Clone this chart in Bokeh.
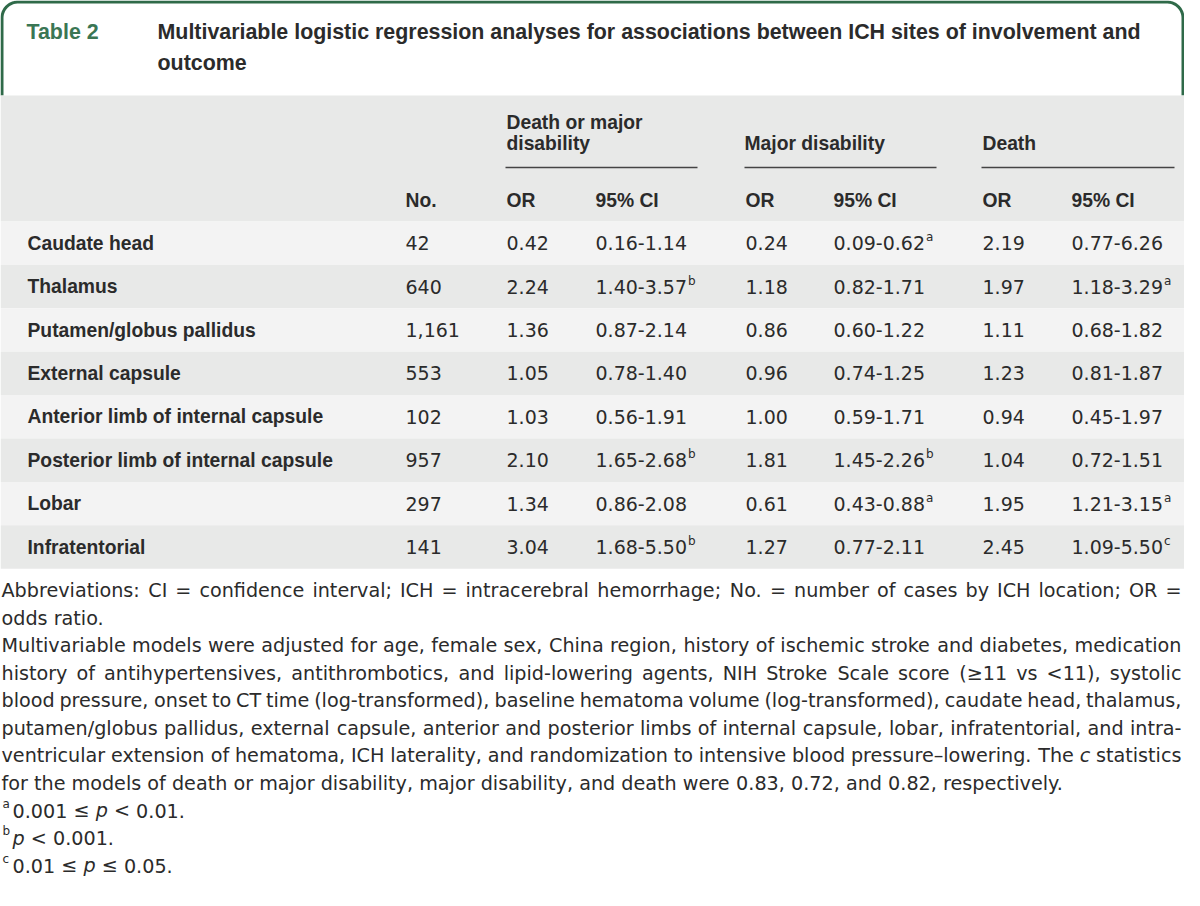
import numpy as np
from bokeh.plotting import figure
from bokeh.models import Range1d
from bokeh.core.properties import value
from bokeh.embed import file_html
from bokeh.resources import INLINE

# ---------------- data ----------------
table_label = "Table 2"
title_lines = ["Multivariable logistic regression analyses for associations between ICH sites of involvement and",
               "outcome"]
group_titles = [["Death or major", "disability"], ["Major disability"], ["Death"]]
sub_headers = ["No.", "OR", "95% CI", "OR", "95% CI", "OR", "95% CI"]

sites = ["Caudate head", "Thalamus", "Putamen/globus pallidus", "External capsule",
         "Anterior limb of internal capsule", "Posterior limb of internal capsule",
         "Lobar", "Infratentorial"]
n_cases = ["42", "640", "1,161", "553", "102", "957", "297", "141"]

or_dmd = ["0.42", "2.24", "1.36", "1.05", "1.03", "2.10", "1.34", "3.04"]
ci_dmd = ["0.16-1.14", "1.40-3.57", "0.87-2.14", "0.78-1.40", "0.56-1.91", "1.65-2.68", "0.86-2.08", "1.68-5.50"]
sup_dmd = ["", "b", "", "", "", "b", "", "b"]

or_md = ["0.24", "1.18", "0.86", "0.96", "1.00", "1.81", "0.61", "1.27"]
ci_md = ["0.09-0.62", "0.82-1.71", "0.60-1.22", "0.74-1.25", "0.59-1.71", "1.45-2.26", "0.43-0.88", "0.77-2.11"]
sup_md = ["a", "", "", "", "", "b", "a", ""]

or_d = ["2.19", "1.97", "1.11", "1.23", "0.94", "1.04", "1.95", "2.45"]
ci_d = ["0.77-6.26", "1.18-3.29", "0.68-1.82", "0.81-1.87", "0.45-1.97", "0.72-1.51", "1.21-3.15", "1.09-5.50"]
sup_d = ["", "a", "", "", "", "", "a", "c"]

notes = [
    ("Abbreviations: CI = confidence interval; ICH = intracerebral hemorrhage; No. = number of cases by ICH location; OR =", True),
    ("odds ratio.", False),
    ("Multivariable models were adjusted for age, female sex, China region, history of ischemic stroke and diabetes, medication", True),
    ("history of antihypertensives, antithrombotics, and lipid-lowering agents, NIH Stroke Scale score (≥11 vs <11), systolic", True),
    ("blood pressure, onset to CT time (log-transformed), baseline hematoma volume (log-transformed), caudate head, thalamus,", True),
    ("putamen/globus pallidus, external capsule, anterior and posterior limbs of internal capsule, lobar, infratentorial, and intra-", True),
    ("ventricular extension of hematoma, ICH laterality, and randomization to intensive blood pressure–lowering. The *c* statistics", True),
    ("for the models of death or major disability, major disability, and death were 0.83, 0.72, and 0.82, respectively.", False),
]
sig_marks = ["a", "b", "c"]
sig_texts = ["0.001 ≤ *p* < 0.01.", "*p* < 0.001.", "0.01 ≤ *p* ≤ 0.05."]

# ---------------- layout / style ----------------
W, H = 1184, 890
GREEN = "#2f6a49"
GREEN_TXT = "#3a7654"
DARK = "#2b2b2b"
HDR_BG = "#e8e9e8"
ROW_BG = ["#f3f3f3", "#e8e9e8"]
BOLD = "Liberation Sans"
REG = "DejaVu Sans"

# DejaVu Sans advance widths (units per 2048 em) for text measurement
DV = {' ': 651, '!': 821, '(': 799, ')': 799, ',': 651, '-': 739, '.': 651, '/': 690, ':': 690, ';': 690,
      '<': 1716, '=': 1716, '>': 1716, '≤': 1716, '≥': 1716, '–': 1024, '%': 1946,
      'A': 1401, 'B': 1405, 'C': 1430, 'D': 1577, 'E': 1294, 'F': 1178, 'G': 1589, 'H': 1540, 'I': 604,
      'J': 604, 'K': 1343, 'L': 1141, 'M': 1767, 'N': 1532, 'O': 1612, 'P': 1235, 'R': 1423, 'S': 1300,
      'T': 1251, 'U': 1499, 'V': 1401, 'W': 2025, 'Y': 1251,
      'a': 1255, 'b': 1300, 'c': 1126, 'd': 1300, 'e': 1260, 'f': 721, 'g': 1300, 'h': 1298, 'i': 569,
      'j': 569, 'k': 1186, 'l': 569, 'm': 1995, 'n': 1298, 'o': 1253, 'p': 1300, 'q': 1300, 'r': 842,
      's': 1067, 't': 803, 'u': 1298, 'v': 1212, 'w': 1675, 'x': 1212, 'y': 1212, 'z': 1075}
for d in "0123456789":
    DV[d] = 1303


def tw(s, size):
    return sum(DV.get(ch, 1250) for ch in s) / 2048.0 * size


p = figure(width=W, height=H, x_range=Range1d(0, W), y_range=Range1d(H, 0),
           output_backend="svg", toolbar_location=None, min_border=0,
           x_axis_type=None, y_axis_type=None)
p.xgrid.visible = False
p.ygrid.visible = False
p.outline_line_color = None
p.background_fill_color = "white"
p.border_fill_color = "white"

# ---- title box border (rounded top) ----
r = 16
bl, br, bt, bb = 1.5, W - 1.5, 1.5, 95
a1 = np.linspace(np.pi, 1.5 * np.pi, 24)
a2 = np.linspace(1.5 * np.pi, 2 * np.pi, 24)
bx = [bl] + list(bl + r + r * np.cos(a1)) + list(br - r + r * np.cos(a2)) + [br]
by = [bb] + list(bt + r + r * np.sin(a1)) + list(bt + r + r * np.sin(a2)) + [bb]
p.line(bx, by, line_color=GREEN, line_width=3)

TSIZE = "21.4px"
p.text(x=[26], y=[31], text=[table_label], text_font=value(BOLD), text_font_style="bold",
       text_font_size=TSIZE, text_color=GREEN_TXT, text_baseline="middle")
p.text(x=[157] * len(title_lines), y=[31 + 31 * i for i in range(len(title_lines))], text=title_lines,
       text_font=value(BOLD), text_font_style="bold", text_font_size=TSIZE, text_color=DARK,
       text_baseline="middle")

# ---- table backgrounds ----
hdr_top, hdr_bot = 95, 221
row_h = 43.4
p.quad(left=[0], right=[W], top=[hdr_top], bottom=[hdr_bot], fill_color=HDR_BG, line_color=None)
n = len(sites)
row_top = [hdr_bot + i * row_h for i in range(n)]
row_mid = [t + row_h / 2 for t in row_top]
p.quad(left=[0] * n, right=[W] * n, top=row_top, bottom=[t + row_h for t in row_top],
       fill_color=[ROW_BG[i % 2] for i in range(n)], line_color=None)

# ---- header text ----
HSIZE = "19.3px"
col_x = [405, 506, 595, 745, 833, 982, 1071]
group_x = [506, 744, 982]
group_span = [(505, 697), (744, 936), (981, 1174)]
gx, gy, gt = [], [], []
for k, lines in enumerate(group_titles):
    base = 143 - 21 * (len(lines) - 1)
    for j, ln in enumerate(lines):
        gx.append(group_x[k]); gy.append(base + 21 * j); gt.append(ln)
p.text(x=gx, y=gy, text=gt, text_font=value(BOLD), text_font_style="bold", text_font_size=HSIZE,
       text_color=DARK, text_baseline="middle")
p.segment(x0=[s[0] for s in group_span], x1=[s[1] for s in group_span], y0=[167] * 3, y1=[167] * 3,
          line_color="#444444", line_width=1.5)
p.text(x=col_x, y=[200] * len(col_x), text=sub_headers, text_font=value(BOLD), text_font_style="bold",
       text_font_size=HSIZE, text_color=DARK, text_baseline="middle")

# ---- body ----
p.text(x=[27] * n, y=row_mid, text=sites, text_font=value(BOLD), text_font_style="bold",
       text_font_size=HSIZE, text_color=DARK, text_baseline="middle")
VS = 19.0
columns = [n_cases, or_dmd, ci_dmd, or_md, ci_md, or_d, ci_d]
for cx, vals in zip(col_x, columns):
    p.text(x=[cx] * n, y=row_mid, text=vals, text_font=value(REG), text_font_size=f"{VS}px",
           text_color=DARK, text_baseline="middle")
sx, sy, st = [], [], []
for cx, cis, sups in [(col_x[2], ci_dmd, sup_dmd), (col_x[4], ci_md, sup_md), (col_x[6], ci_d, sup_d)]:
    for i in range(n):
        if sups[i]:
            sx.append(cx + tw(cis[i], VS) + 1)
            sy.append(row_mid[i] - 6)
            st.append(sups[i])
p.text(x=sx, y=sy, text=st, text_font=value(REG), text_font_size="12px", text_color=DARK,
       text_baseline="middle")

# ---- footnotes (justified like the source) ----
fn_left, fn_right = 1, W - 3
fn_y0, fn_dy = 590, 27.5
# font size: as large as 19.7px while every justified line still fits
em_need = max(sum(tw(w.strip("*"), 1.0) for w in ln.split(" ")) + 0.25 * (len(ln.split(" ")) - 1)
              for ln, just in notes if just)
FS = min(19.7, (fn_right - fn_left) / em_need)
reg_x, reg_y, reg_t, it_x, it_y, it_t = [], [], [], [], [], []


def place_words(words, x_start, y, gap):
    x = x_start
    for w in words:
        italic = w.startswith("*") and w.endswith("*") and len(w) > 2
        t = w.strip("*") if italic else w
        if italic:
            it_x.append(x); it_y.append(y); it_t.append(t)
        else:
            reg_x.append(x); reg_y.append(y); reg_t.append(t)
        x += tw(t, FS) + gap


for k, (line, just) in enumerate(notes):
    words = line.split(" ")
    y = fn_y0 + k * fn_dy
    natural = sum(tw(w.strip("*"), FS) for w in words)
    if just and len(words) > 1:
        gap = (fn_right - fn_left - natural) / (len(words) - 1)
    else:
        gap = tw(" ", FS)
    place_words(words, fn_left, y, gap)

sup_x, sup_y = [], []
for k, txt in enumerate(sig_texts):
    y = fn_y0 + (len(notes) + k) * fn_dy
    sup_x.append(fn_left + 1); sup_y.append(y - 7)
    place_words(txt.split(" "), fn_left + 11, y, tw(" ", FS))

p.text(x=reg_x, y=reg_y, text=reg_t, text_font=value(REG), text_font_size=f"{FS:.2f}px",
       text_color=DARK, text_baseline="middle")
p.text(x=it_x, y=it_y, text=it_t, text_font=value(REG), text_font_style="italic",
       text_font_size=f"{FS:.2f}px", text_color=DARK, text_baseline="middle")
p.text(x=sup_x, y=sup_y, text=sig_marks, text_font=value(REG), text_font_size="12px",
       text_color=DARK, text_baseline="middle")

open("out.html", "w").write(file_html(p, INLINE))
